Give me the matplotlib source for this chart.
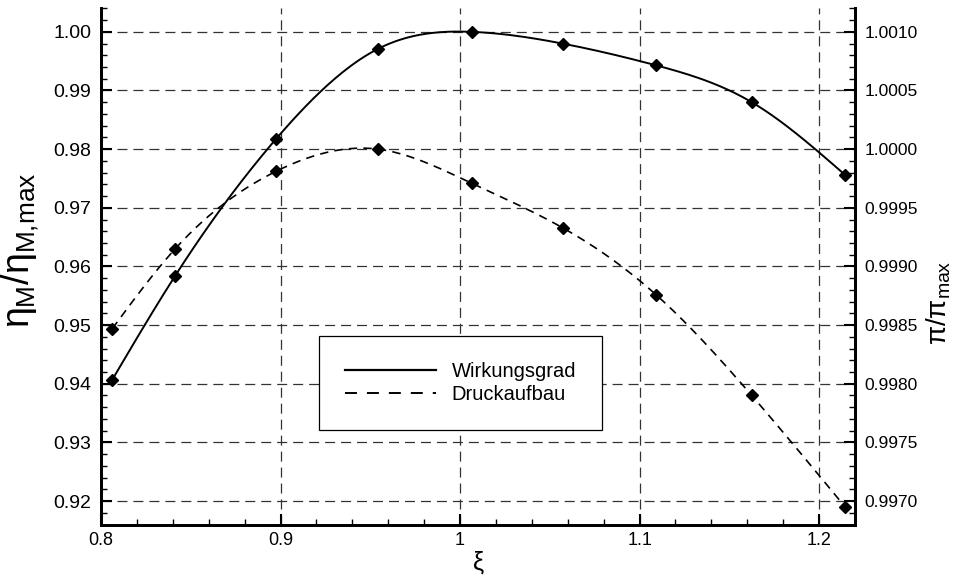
import numpy as np
import matplotlib
matplotlib.use("Agg")
import matplotlib.pyplot as plt
from matplotlib.lines import Line2D
from matplotlib.ticker import MultipleLocator, FormatStrFormatter

plt.rcParams['font.family'] = ['Liberation Sans', 'DejaVu Sans']
plt.rcParams['mathtext.fontset'] = 'custom'
plt.rcParams['mathtext.rm'] = 'Liberation Sans'
plt.rcParams['mathtext.it'] = 'Liberation Sans'
plt.rcParams['lines.scale_dashes'] = False

# data
xi_eta = [0.8063, 0.8413, 0.8974, 0.9543, 1.0064, 1.0571, 1.1091, 1.1625, 1.2145]
eta = [0.9407, 0.9584, 0.9817, 0.9971, 1.0000, 0.9980, 0.9943, 0.9880, 0.9756]

xi_pi = [0.8063, 0.8413, 0.8974, 0.9543, 1.0064, 1.0571, 1.1091, 1.1625, 1.2145]
pi = [0.99847, 0.99915, 0.99981, 1.00000, 0.99971, 0.99933, 0.99876, 0.99790, 0.99695]

labels = ['Wirkungsgrad', 'Druckaufbau']


def spline(x, y, n=300):
    # natural cubic spline through the points
    x = np.asarray(x, float)
    y = np.asarray(y, float)
    k = len(x)
    h = np.diff(x)
    A = np.zeros((k, k))
    b = np.zeros(k)
    A[0, 0] = A[-1, -1] = 1
    for i in range(1, k - 1):
        A[i, i - 1] = h[i - 1]
        A[i, i] = 2 * (h[i - 1] + h[i])
        A[i, i + 1] = h[i]
        b[i] = 6 * ((y[i + 1] - y[i]) / h[i] - (y[i] - y[i - 1]) / h[i - 1])
    M = np.linalg.solve(A, b)
    xs = np.linspace(x[0], x[-1], n)
    idx = np.clip(np.searchsorted(x, xs) - 1, 0, k - 2)
    x0, x1 = x[idx], x[idx + 1]
    hh = x1 - x0
    t0 = x1 - xs
    t1 = xs - x0
    ys = (M[idx] * t0 ** 3 + M[idx + 1] * t1 ** 3) / (6 * hh) \
        + (y[idx] / hh - M[idx] * hh / 6) * t0 \
        + (y[idx + 1] / hh - M[idx + 1] * hh / 6) * t1
    return xs, ys


fig = plt.figure(figsize=(9.56, 5.77), dpi=100)
ax = fig.add_axes([101 / 956, 1 - 525 / 577, 754 / 956, 517.5 / 577])
ax2 = ax.twinx()

xs, ys = spline(xi_eta, eta)
ax.plot(xs, ys, color='black', lw=1.4, zorder=3)
ax.plot(xi_eta, eta, ls='none', marker='D', ms=6.5, color='black', zorder=4)

xs, ys = spline(xi_pi, pi)
ax2.plot(xs, ys, color='black', lw=1.2, dashes=(6, 4.5))
ax2.plot(xi_pi, pi, ls='none', marker='D', ms=6.5, color='black')

ax.set_xlim(0.8, 1.22)
ax.set_ylim(0.91592, 1.00415)
ax2.set_ylim(1.001 + 0.05 * (0.91592 - 1), 1.001 + 0.05 * (1.00415 - 1))

ax.xaxis.set_major_locator(MultipleLocator(0.1))
ax.xaxis.set_minor_locator(MultipleLocator(0.02))
ax.yaxis.set_major_locator(MultipleLocator(0.01))
ax.yaxis.set_minor_locator(MultipleLocator(0.002))
ax.yaxis.set_major_formatter(FormatStrFormatter('%.2f'))
ax2.yaxis.set_major_locator(MultipleLocator(0.0005))
ax2.yaxis.set_minor_locator(MultipleLocator(0.0001))
ax2.yaxis.set_major_formatter(FormatStrFormatter('%.4f'))
ax.set_xticks([0.8, 0.9, 1.0, 1.1, 1.2])
ax.set_xticklabels(['0.8', '0.9', '1', '1.1', '1.2'])

for a in (ax, ax2):
    a.spines['top'].set_visible(False)
    for s in ('left', 'right', 'bottom'):
        a.spines[s].set_linewidth(2)
ax.tick_params(axis='y', which='both', direction='in', left=True, right=False,
               labelsize=14, pad=7)
ax.tick_params(axis='x', which='both', direction='in', top=False, labelsize=13, pad=5)
ax2.tick_params(axis='y', which='both', direction='in', right=True, left=False,
                labelsize=12.5, pad=7)
for a in (ax, ax2):
    a.tick_params(which='major', length=8, width=1.5)
    a.tick_params(which='minor', length=4.5, width=1)

ax.grid(True, which='major', color='#333333', lw=0.9, dashes=(7.2, 4.3))

ax.set_xlabel(r'$\xi$', fontsize=18, labelpad=0)
ax.set_ylabel(r'$\eta_{M}/\eta_{M{,}max}$', fontsize=27)
ax2.set_ylabel(r'$\pi/\pi_{max}$', fontsize=20)
ax.yaxis.set_label_coords(-0.08, 0.53)
ax2.yaxis.set_label_coords(1.092, 0.43)

handles = [Line2D([], [], color='black', lw=1.6),
           Line2D([], [], color='black', lw=1.4, dashes=(8.6, 7.2))]
leg = ax2.legend(handles, labels, loc='center', bbox_to_anchor=(460.5 / 956, 1 - 383 / 577),
                 bbox_transform=fig.transFigure, fontsize=14.5, frameon=True,
                 fancybox=False, edgecolor='black', framealpha=1, borderpad=1.3,
                 handlelength=4.5, handletextpad=0.8, labelspacing=0.2)
leg.get_frame().set_linewidth(0.9)

fig.savefig('out.png', dpi=100)
